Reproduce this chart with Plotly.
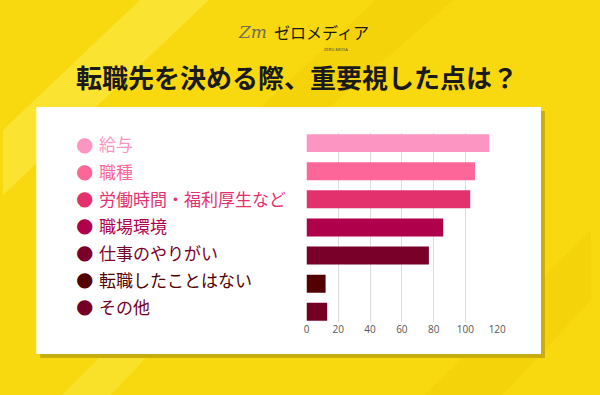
import plotly.graph_objects as go

categories = ["給与", "職種", "労働時間・福利厚生など", "職場環境", "仕事のやりがい", "転職したことはない", "その他"]
values = [115, 106, 103, 86, 77, 12, 13]
colors = ["#fd95c3", "#fc6698", "#e3316e", "#ae004b", "#790029", "#530000", "#730024"]
x_ticks = [0, 20, 40, 60, 80, 100, 120]
title_text = "転職先を決める際、重要視した点は？"

W, H = 600, 395
def px(x):
    return x / W
def py(y):
    return 1 - y / H

fig = go.Figure()
fig.add_trace(go.Bar(
    x=values, y=categories, orientation="h",
    marker=dict(color=colors, line=dict(width=0)),
    width=0.64, hoverinfo="x+y", showlegend=False,
))

shapes = []
stripe_col = ["rgba(255,240,90,0.45)", "rgba(240,200,0,0.35)", "rgba(255,240,90,0.35)", "rgba(240,200,0,0.3)"]
stripes = [
    [(0, 130), (140, 0), (210, 0), (0, 195)],
    [(430, 395), (600, 230), (600, 300), (510, 395)],
    [(60, 395), (220, 240), (260, 240), (110, 395)],
    [(380, 0), (460, 0), (330, 110), (260, 110)],
]
for pts, c in zip(stripes, stripe_col):
    path = " ".join(("M " if i == 0 else "L ") + f"{px(a):.4f},{py(b):.4f}" for i, (a, b) in enumerate(pts)) + " Z"
    shapes.append(dict(type="path", path=path, xref="paper", yref="paper", fillcolor=c,
                       line=dict(width=0), layer="below"))
# panel shadow and panel
shapes.append(dict(type="rect", xref="paper", yref="paper", x0=px(38), x1=px(553), y0=py(358), y1=py(111),
                   fillcolor="#c8ad0e", line=dict(width=0), layer="below"))
shapes.append(dict(type="rect", xref="paper", yref="paper", x0=px(34), x1=px(549), y0=py(354), y1=py(107),
                   fillcolor="#ffffff", line=dict(width=0), layer="below"))

annotations = []
annotations.append(dict(text=f"<b>{title_text}</b>", x=0.5, y=py(76), xref="paper", yref="paper",
                        showarrow=False, font=dict(size=26, color="#1a1a1a", family="Noto Sans CJK JP"),
                        xanchor="center", yanchor="middle"))
annotations.append(dict(text="<i>Zm</i>", x=px(238), y=py(32), xref="paper", yref="paper", showarrow=False,
                        font=dict(size=17, color="#6e6e5a", family="DejaVu Serif"), xanchor="left", yanchor="middle"))
annotations.append(dict(text="ゼロメディア", x=px(274), y=py(32), xref="paper", yref="paper", showarrow=False,
                        font=dict(size=16, color="#1a1a1a", family="Noto Sans CJK JP"), xanchor="left", yanchor="middle"))
annotations.append(dict(text="ZERO-MEDIA", x=px(340), y=py(49), xref="paper", yref="paper", showarrow=False,
                        font=dict(size=4, color="#444444"), xanchor="center", yanchor="middle"))
for i, (cat, col) in enumerate(zip(categories, colors)):
    annotations.append(dict(text="●", x=px(83), y=i, xref="paper", yref="y2", showarrow=False,
                            font=dict(size=20, color=col, family="DejaVu Sans"), xanchor="center", yanchor="middle"))
    annotations.append(dict(text=cat, x=px(96), y=i, xref="paper", yref="y2", showarrow=False,
                            font=dict(size=17, color=col, family="Noto Sans CJK JP"), xanchor="left", yanchor="middle"))

fig.update_layout(
    width=W, height=H,
    margin=dict(l=0, r=0, t=0, b=0),
    paper_bgcolor="#f8d910",
    plot_bgcolor="rgba(0,0,0,0)",
    shapes=shapes,
    annotations=annotations,
    xaxis=dict(domain=[px(309.7), px(504.3)], range=[0, 120], tickvals=x_ticks,
               showgrid=True, gridcolor="#dcdcdc", gridwidth=1, zeroline=False,
               tickfont=dict(size=10, color="#555555", family="Open Sans"), showline=False,
               ticks="", fixedrange=True),
    yaxis=dict(domain=[py(322), py(133)], range=[6.36, -0.36], showticklabels=False,
               showgrid=False, zeroline=False, ticks="", fixedrange=True),
    yaxis2=dict(domain=[py(322), py(133)], range=[6.59, -0.407], overlaying="y", visible=False,
                type="linear", fixedrange=True),
)

fig.write_html("out.html", config={"displayModeBar": False},
               post_script="document.body.style.margin='0';document.body.style.overflow='hidden';")
